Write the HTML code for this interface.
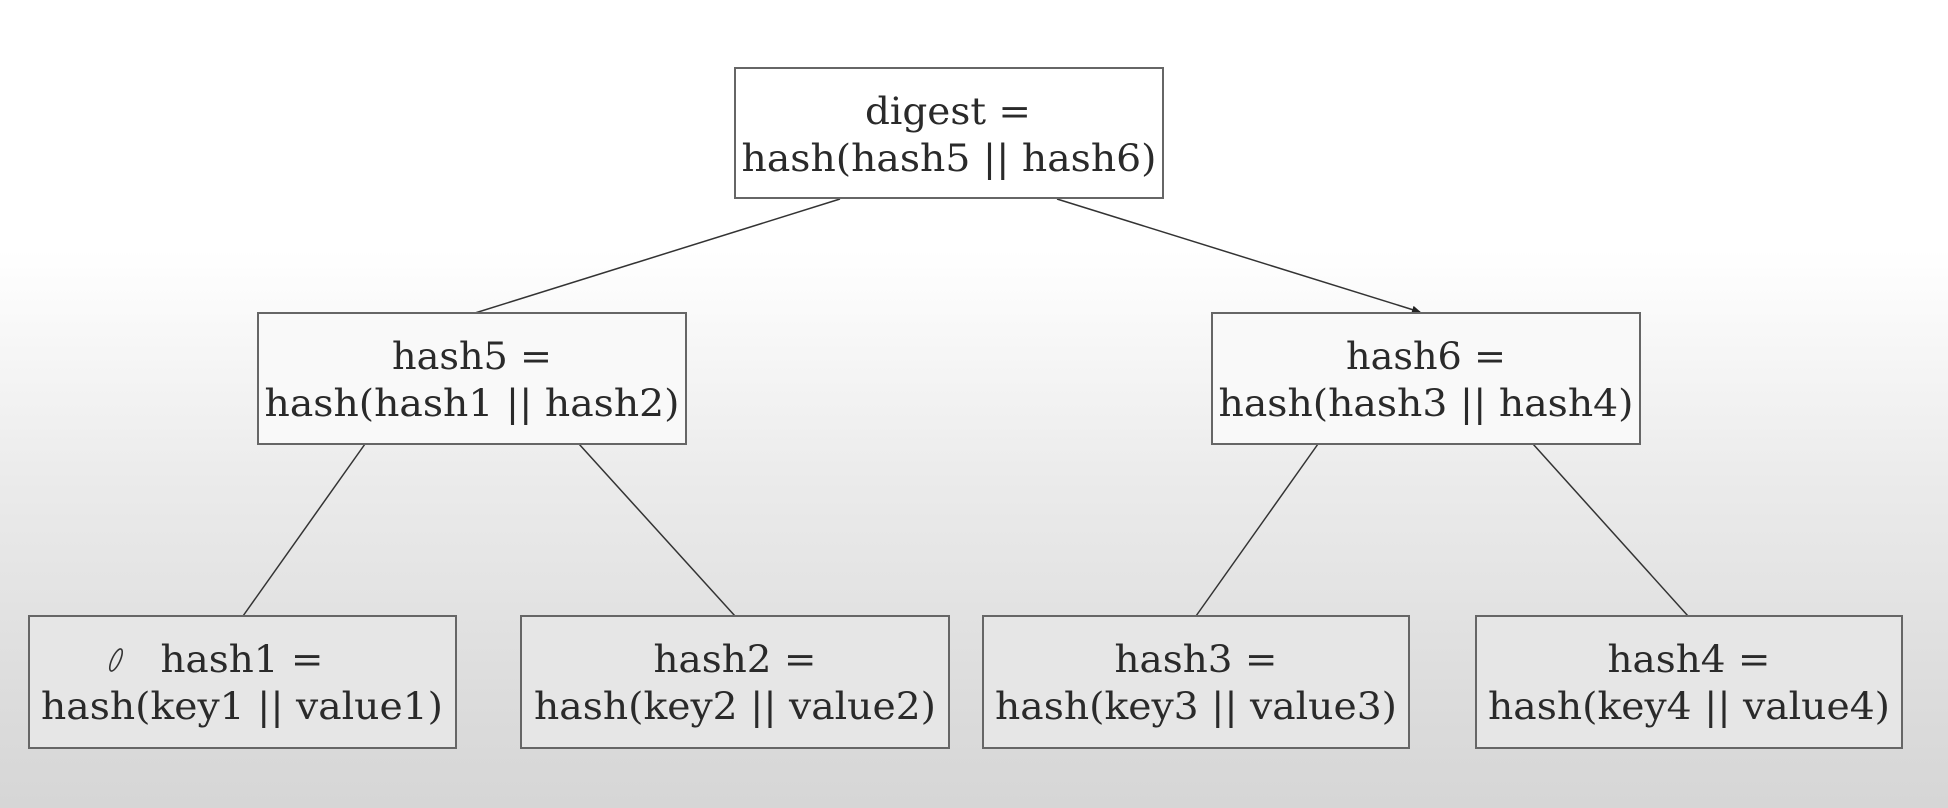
<!DOCTYPE html>
<html><head><meta charset="utf-8"><style>
html,body{margin:0;padding:0;}
body{width:1948px;height:808px;overflow:hidden;background:linear-gradient(to bottom,#ffffff 0px,#ffffff 250px,#ebebeb 480px,#dcdcdc 700px,#d6d6d6 808px);}
svg{position:absolute;left:0;top:0;}
text{font-family:"DejaVu Serif","Liberation Serif",serif;font-size:37px;fill:#2a2a2a;text-anchor:middle;}
</style></head><body>
<svg width="1948" height="808" viewBox="0 0 1948 808">
<defs><marker id="ar" markerWidth="10" markerHeight="10" refX="8" refY="4" orient="auto" markerUnits="userSpaceOnUse"><path d="M0,0 L9,4 L0,8 z" fill="#222"/></marker></defs>
<g stroke="#333" stroke-width="1.5" fill="none">
<line x1="840" y1="199" x2="475" y2="313"/>
<line x1="1057" y1="199" x2="1420" y2="312" marker-end="url(#ar)"/>
<line x1="365" y1="444" x2="243" y2="616"/>
<line x1="579" y1="444" x2="735" y2="616"/>
<line x1="1318" y1="444" x2="1196" y2="616"/>
<line x1="1533" y1="444" x2="1688" y2="616"/>
</g>
<g stroke="#666" stroke-width="2">
<rect x="735" y="68" width="428" height="130" fill="#ffffff"/>
<rect x="258" y="313" width="428" height="131" fill="#f9f9f9"/>
<rect x="1212" y="313" width="428" height="131" fill="#f9f9f9"/>
<rect x="29" y="616" width="427" height="132" fill="#e6e6e6"/>
<rect x="521" y="616" width="428" height="132" fill="#e6e6e6"/>
<rect x="983" y="616" width="426" height="132" fill="#e6e6e6"/>
<rect x="1476" y="616" width="426" height="132" fill="#e6e6e6"/>
</g>
<ellipse cx="116" cy="660" rx="4" ry="12" transform="rotate(25 116 660)" fill="none" stroke="#333" stroke-width="1.6"/>
<text x="948" y="124" textLength="166" lengthAdjust="spacingAndGlyphs">digest =</text>
<text x="949" y="171" textLength="415" lengthAdjust="spacingAndGlyphs">hash(hash5 || hash6)</text>
<text x="472" y="369" textLength="160" lengthAdjust="spacingAndGlyphs">hash5 =</text>
<text x="472" y="416" textLength="415" lengthAdjust="spacingAndGlyphs">hash(hash1 || hash2)</text>
<text x="1426" y="369" textLength="160" lengthAdjust="spacingAndGlyphs">hash6 =</text>
<text x="1426" y="416" textLength="415" lengthAdjust="spacingAndGlyphs">hash(hash3 || hash4)</text>
<text x="242" y="672" textLength="163" lengthAdjust="spacingAndGlyphs">hash1 =</text>
<text x="242" y="719" textLength="402" lengthAdjust="spacingAndGlyphs">hash(key1 || value1)</text>
<text x="735" y="672" textLength="163" lengthAdjust="spacingAndGlyphs">hash2 =</text>
<text x="735" y="719" textLength="402" lengthAdjust="spacingAndGlyphs">hash(key2 || value2)</text>
<text x="1196" y="672" textLength="163" lengthAdjust="spacingAndGlyphs">hash3 =</text>
<text x="1196" y="719" textLength="402" lengthAdjust="spacingAndGlyphs">hash(key3 || value3)</text>
<text x="1689" y="672" textLength="163" lengthAdjust="spacingAndGlyphs">hash4 =</text>
<text x="1689" y="719" textLength="402" lengthAdjust="spacingAndGlyphs">hash(key4 || value4)</text>
</svg>
</body></html>
